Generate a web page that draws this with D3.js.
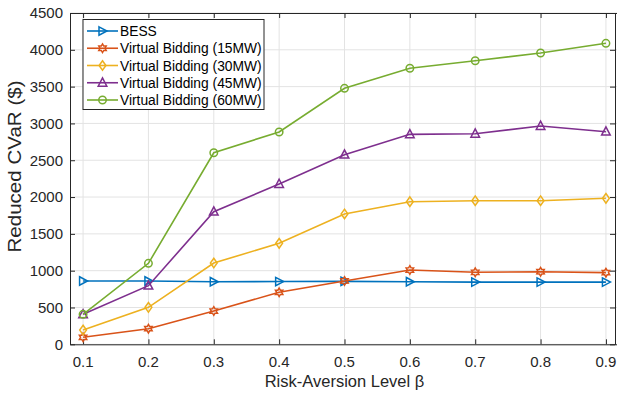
<!DOCTYPE html>
<html>
<head>
<meta charset="utf-8">
<script src="https://cdn.jsdelivr.net/npm/d3@7"></script>
<style>
  html, body { margin: 0; padding: 0; background: #fff; }
  svg { display: block; font-family: "Liberation Sans", Arial, Helvetica, sans-serif; }
</style>
</head>
<body>
<svg id="chart" width="617" height="396"></svg>
<script>
// Risk-aversion levels on the x axis
const betas = [0.1, 0.2, 0.3, 0.4, 0.5, 0.6, 0.7, 0.8, 0.9];
const xTickLabels = ["0.1", "0.2", "0.3", "0.4", "0.5", "0.6", "0.7", "0.8", "0.9"];
const yTicks = [0, 500, 1000, 1500, 2000, 2500, 3000, 3500, 4000, 4500];

// Reduced CVaR ($) for each strategy
const seriesNames = [
  "BESS",
  "Virtual Bidding (15MW)",
  "Virtual Bidding (30MW)",
  "Virtual Bidding (45MW)",
  "Virtual Bidding (60MW)"
];
const bess   = [860, 860, 850, 852, 855, 850, 845, 845, 845];
const vb15   = [95, 212, 452, 706, 860, 1009, 978, 986, 973];
const vb30   = [194, 502, 1104, 1372, 1770, 1937, 1950, 1950, 1983];
const vb45   = [407, 796, 1801, 2177, 2575, 2852, 2860, 2965, 2888];
const vb60   = [407, 1100, 2602, 2884, 3477, 3749, 3852, 3957, 4088];
const seriesValues = [bess, vb15, vb30, vb45, vb60];
const seriesColors = ["#0072BD", "#D95319", "#EDB120", "#7E2F8E", "#77AC30"];
const seriesMarkers = ["triangleRight", "hexagram", "diamond", "triangleUp", "circle"];

const svg = d3.select("#chart");
const axisColor = "#262626";
const gridColor = "#e3e3e3";

// the boxed frame runs slightly past the right edge of the canvas
const plot = { left: 70, right: 619, top: 13, bottom: 344.3 };
const x = d3.scaleLinear().domain([0.08, 0.92]).range([plot.left, plot.right]);
const y = d3.scaleLinear().domain([0, 4500]).range([plot.bottom, plot.top]);

const g = svg.append("g");

// grid
g.append("g").selectAll("line").data(betas).join("line")
  .attr("x1", d => x(d)).attr("x2", d => x(d))
  .attr("y1", plot.top).attr("y2", plot.bottom)
  .attr("stroke", gridColor).attr("stroke-width", 1);
g.append("g").selectAll("line").data(yTicks).join("line")
  .attr("x1", plot.left).attr("x2", plot.right)
  .attr("y1", d => y(d)).attr("y2", d => y(d))
  .attr("stroke", gridColor).attr("stroke-width", 1);

// axes (ticks point inward, boxed)
const tickLen = 5;
const xAxisB = d3.axisTop(x).tickValues(betas).tickFormat(() => "").tickSize(tickLen).tickSizeOuter(0);
const xAxisT = d3.axisBottom(x).tickValues(betas).tickFormat(() => "").tickSize(tickLen).tickSizeOuter(0);
const yAxisL = d3.axisRight(y).tickValues(yTicks).tickFormat(() => "").tickSize(tickLen).tickSizeOuter(0);
const yAxisR = d3.axisLeft(y).tickValues(yTicks).tickFormat(() => "").tickSize(tickLen).tickSizeOuter(0);

function styleAxis(sel) {
  sel.selectAll("path").attr("stroke", axisColor).attr("stroke-width", 1);
  sel.selectAll("line").attr("stroke", axisColor).attr("stroke-width", 1);
}
g.append("g").attr("transform", `translate(0,${plot.bottom})`).call(xAxisB).call(styleAxis);
g.append("g").attr("transform", `translate(0,${plot.top})`).call(xAxisT).call(styleAxis);
g.append("g").attr("transform", `translate(${plot.left},0)`).call(yAxisL).call(styleAxis);
g.append("g").attr("transform", `translate(${plot.right - 4},0)`).call(yAxisR).call(styleAxis);

// tick labels
g.append("g").selectAll("text").data(betas).join("text")
  .attr("x", d => x(d)).attr("y", 367)
  .attr("text-anchor", "middle")
  .attr("font-size", 15).attr("fill", axisColor)
  .text((d, i) => xTickLabels[i]);
g.append("g").selectAll("text").data(yTicks).join("text")
  .attr("x", 63).attr("y", d => y(d) + 5.3)
  .attr("text-anchor", "end")
  .attr("font-size", 15).attr("fill", axisColor)
  .text(d => String(d));

// axis titles
svg.append("text")
  .attr("x", (plot.left + plot.right) / 2).attr("y", 387)
  .attr("text-anchor", "middle").attr("font-size", 16.5).attr("fill", axisColor)
  .text("Risk-Aversion Level β");
svg.append("text")
  .attr("transform", "translate(21,166.5) rotate(-90)")
  .attr("text-anchor", "middle").attr("font-size", 18).attr("fill", axisColor)
  .attr("textLength", 172).attr("lengthAdjust", "spacingAndGlyphs")
  .text("Reduced CVaR ($)");

// marker shapes
function markerPath(type) {
  switch (type) {
    case "triangleRight": return "M-3.5,-4.2 L4.5,0 L-3.5,4.2 Z";
    case "triangleUp": return "M0,-4.8 L4.3,3.4 L-4.3,3.4 Z";
    case "diamond": return "M0,-4.8 L3.4,0 L0,4.8 L-3.4,0 Z";
    case "circle": return d3.symbol(d3.symbolCircle, 44)();
    case "hexagram": {
      const pts = [];
      const R = 4.3, r = 2.5;
      for (let k = 0; k < 12; k++) {
        const a = -Math.PI / 2 + k * Math.PI / 6;
        const rr = k % 2 === 0 ? R : r;
        pts.push([rr * Math.cos(a), rr * Math.sin(a)]);
      }
      return "M" + pts.map(p => p[0].toFixed(2) + "," + p[1].toFixed(2)).join("L") + "Z";
    }
  }
}

const line = d3.line().x((d, i) => x(betas[i])).y(d => y(d));

seriesValues.forEach((vals, s) => {
  const sg = g.append("g");
  sg.append("path").datum(vals)
    .attr("d", line)
    .attr("fill", "none")
    .attr("stroke", seriesColors[s])
    .attr("stroke-width", 1.6);
  sg.selectAll("path.m").data(vals).join("path")
    .attr("class", "m")
    .attr("transform", (d, i) => `translate(${x(betas[i])},${y(d)})`)
    .attr("d", markerPath(seriesMarkers[s]))
    .attr("fill", "none")
    .attr("stroke", seriesColors[s])
    .attr("stroke-width", 1.5);
});

// legend
const leg = svg.append("g");
leg.append("rect")
  .attr("x", 83).attr("y", 19.5).attr("width", 181).attr("height", 90)
  .attr("fill", "#fff").attr("stroke", axisColor).attr("stroke-width", 1);
const rowY = d3.scaleLinear().domain([0, 4]).range([31, 100]);
seriesNames.forEach((name, s) => {
  const yy = rowY(s);
  leg.append("line")
    .attr("x1", 87).attr("x2", 118).attr("y1", yy).attr("y2", yy)
    .attr("stroke", seriesColors[s]).attr("stroke-width", 1.6);
  leg.append("path")
    .attr("transform", `translate(102.5,${yy})`)
    .attr("d", markerPath(seriesMarkers[s]))
    .attr("fill", "none").attr("stroke", seriesColors[s]).attr("stroke-width", 1.5);
  leg.append("text")
    .attr("x", 120).attr("y", yy + 5)
    .attr("font-size", 13.8).attr("fill", "#000")
    .text(name);
});
</script>
</body>
</html>
